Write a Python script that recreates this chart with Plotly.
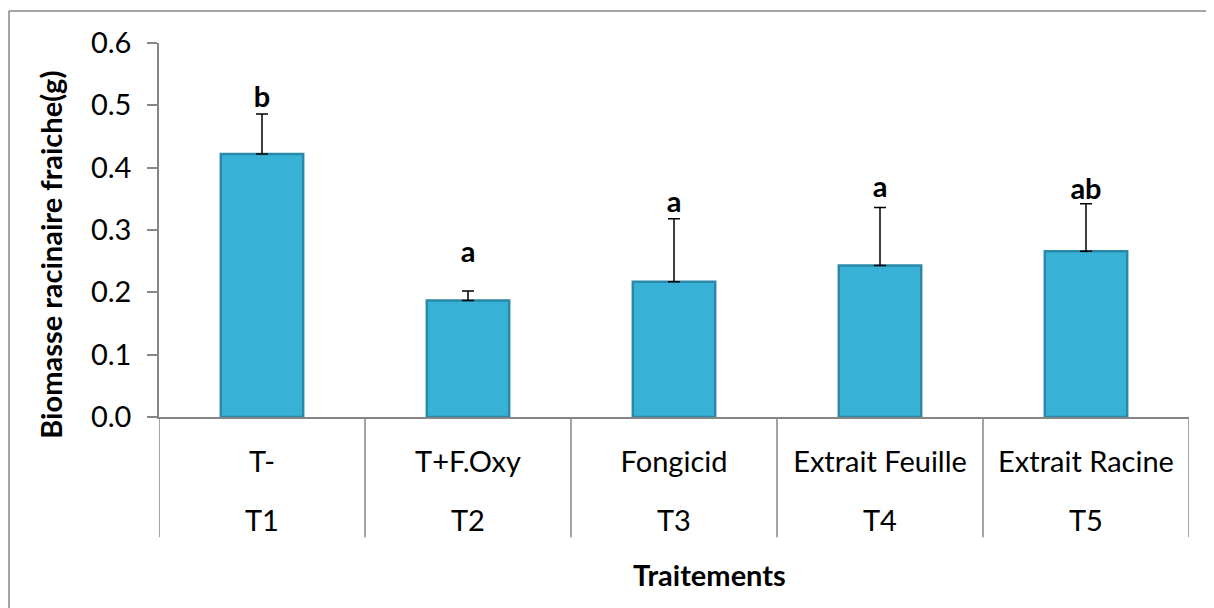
import plotly.graph_objects as go

groups = ["T1", "T2", "T3", "T4", "T5"]
treatments = ["T-", "T+F.Oxy", "Fongicid", "Extrait Feuille", "Extrait Racine"]
means = [0.422, 0.187, 0.217, 0.243, 0.266]
errors = [0.064, 0.015, 0.101, 0.093, 0.076]
letters = ["b", "a", "a", "a", "ab"]
letter_y = [0.509, 0.261, 0.341, 0.365, 0.362]
y_ticks = [0.0, 0.1, 0.2, 0.3, 0.4, 0.5, 0.6]

FONT = "Lato"
FS = 29
AX = "#868686"

# page offset (default body margin in the written html)
OFF = 8
W, H = 1214 - OFF, 608 - OFF
L, R, T = 159 - OFF, 25, 43 - OFF
PH = 374.5
B = H - T - PH
PW = W - L - R
Y0 = 417.5 - OFF  # page y of value 0 in figure coords


def px(v):
    return (v - OFF - L) / PW


def py(v):
    return (Y0 - (v - OFF)) / PH


fig = go.Figure()
fig.add_trace(go.Bar(
    x=treatments, y=means, width=0.4,
    marker=dict(color="#38B1D6", line=dict(color="#2A89A8", width=2.5)),
    error_y=dict(type="data", symmetric=False, array=errors,
                 arrayminus=[0] * len(errors), color="black",
                 thickness=1.5, width=6),
    showlegend=False, hoverinfo="skip",
))
fig.add_trace(go.Scatter(
    x=treatments, y=letter_y, mode="text", text=letters,
    textposition="middle center",
    textfont=dict(family=FONT, size=FS, color="black", weight="bold"),
    showlegend=False, hoverinfo="skip",
))

annotations = [
    dict(text="<b>Biomasse racinaire fraiche(g)</b>", textangle=-90,
         xref="paper", yref="paper", x=px(51), y=py(255),
         xanchor="center", yanchor="middle", showarrow=False,
         font=dict(family=FONT, size=FS, color="black")),
    dict(text="<b>Traitements</b>",
         xref="paper", yref="paper", x=px(709), y=py(575),
         xanchor="center", yanchor="middle", showarrow=False,
         font=dict(family=FONT, size=FS, color="black")),
]
for g, t in zip(groups, treatments):
    annotations.append(dict(
        text=g, xref="x", yref="paper", x=t, y=py(520),
        xanchor="center", yanchor="middle", showarrow=False,
        font=dict(family=FONT, size=FS, color="black")))

shapes = [
    dict(type="line", xref="paper", yref="paper",
         x0=px(9), y0=py(11), x1=px(9), y1=py(640),
         line=dict(color=AX, width=1.5)),
    dict(type="line", xref="paper", yref="paper",
         x0=px(9), y0=py(11), x1=px(1240), y1=py(11),
         line=dict(color=AX, width=1.5)),
]
for i in range(len(treatments) + 1):
    shapes.append(dict(
        type="line", xref="x", yref="paper",
        x0=i - 0.5, x1=i - 0.5, y0=0, y1=py(538),
        line=dict(color=AX, width=1.5)))

fig.update_layout(
    width=W, height=H,
    margin=dict(l=L, r=R, t=T, b=B, pad=0),
    paper_bgcolor="white", plot_bgcolor="white",
    font=dict(family=FONT, size=FS, color="black"),
    xaxis=dict(
        type="category", range=[-0.5, len(treatments) - 0.5],
        showline=True, linecolor=AX, linewidth=1.5,
        showgrid=False, ticks="", ticklabelstandoff=18,
        tickfont=dict(family=FONT, size=FS, color="black"),
    ),
    yaxis=dict(
        range=[0, 0.6], tickvals=y_ticks, tickformat=".1f",
        showline=True, linecolor=AX, linewidth=1.5,
        ticks="outside", ticklen=10, tickcolor=AX, tickwidth=1.5,
        showgrid=False, zeroline=False,
        tickfont=dict(family=FONT, size=FS, color="black"),
        ticklabelstandoff=10,
    ),
    annotations=annotations,
    shapes=shapes,
)

fig.write_html("out.html")
